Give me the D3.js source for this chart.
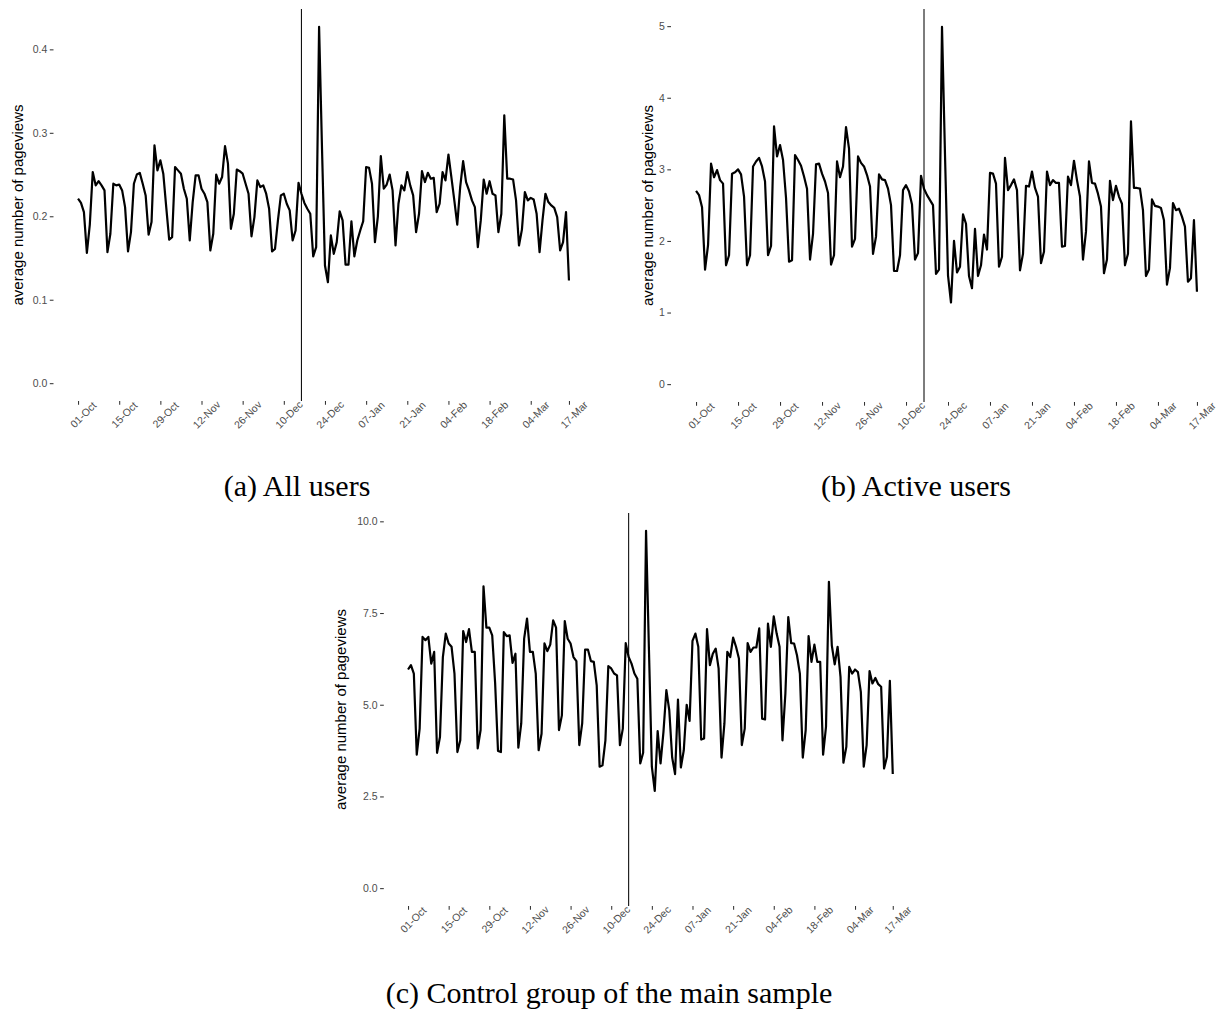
<!DOCTYPE html>
<html><head><meta charset="utf-8">
<script src="https://cdn.jsdelivr.net/npm/d3@7"></script>
<style>body{margin:0;background:#fff} svg{display:block}</style>
</head><body>
<svg id="chart" width="1219" height="1009"></svg>
<script>
// ---------- data ----------
const startDate = "2014-10-01";
const endDate = "2015-03-17";
const eventDate = "2014-12-16";
const tickDates = ["2014-10-01","2014-10-15","2014-10-29","2014-11-12","2014-11-26","2014-12-10","2014-12-24","2015-01-07","2015-01-21","2015-02-04","2015-02-18","2015-03-04","2015-03-17"];
const tickLabels = ["01-Oct","15-Oct","29-Oct","12-Nov","26-Nov","10-Dec","24-Dec","07-Jan","21-Jan","04-Feb","18-Feb","04-Mar","17-Mar"];

const allUsers = [
0.221,0.216,0.205,0.156,0.190,0.253,0.237,0.242,0.237,0.231,
0.157,0.179,0.239,0.237,0.238,0.231,0.211,0.158,0.181,0.239,
0.250,0.252,0.239,0.225,0.178,0.193,0.285,0.255,0.267,0.251,
0.211,0.172,0.175,0.259,0.255,0.251,0.233,0.221,0.171,0.217,
0.249,0.249,0.233,0.227,0.217,0.159,0.179,0.250,0.239,0.247,
0.284,0.263,0.185,0.203,0.256,0.254,0.251,0.239,0.227,0.176,
0.199,0.243,0.235,0.237,0.227,0.209,0.158,0.161,0.195,0.225,
0.227,0.215,0.207,0.171,0.183,0.240,0.227,0.216,0.209,0.203,
0.152,0.163,0.427,0.280,0.141,0.121,0.177,0.155,0.169,0.206,
0.195,0.142,0.142,0.194,0.152,0.171,0.183,0.194,0.259,0.258,
0.239,0.169,0.200,0.272,0.233,0.238,0.250,0.231,0.165,0.215,
0.237,0.231,0.253,0.237,0.225,0.181,0.203,0.254,0.241,0.252,
0.245,0.246,0.205,0.215,0.253,0.243,0.274,0.247,0.219,0.190,
0.235,0.266,0.241,0.231,0.219,0.211,0.163,0.195,0.244,0.227,
0.242,0.227,0.225,0.181,0.203,0.321,0.245,0.245,0.244,0.219,
0.165,0.184,0.229,0.219,0.222,0.220,0.203,0.157,0.195,0.227,
0.217,0.213,0.210,0.199,0.159,0.169,0.205,0.123];

const activeUsers = [
2.70,2.64,2.47,1.60,1.94,3.08,2.89,2.99,2.85,2.80,
1.66,1.80,2.94,2.96,3.00,2.93,2.62,1.66,1.80,3.04,
3.11,3.16,3.04,2.83,1.80,1.93,3.60,3.18,3.34,3.13,
2.60,1.71,1.73,3.20,3.13,3.05,2.90,2.73,1.74,2.10,
3.07,3.08,2.94,2.83,2.67,1.67,1.80,3.11,2.89,3.04,
3.59,3.29,1.92,2.03,3.18,3.09,3.04,2.92,2.76,1.82,
2.06,2.93,2.86,2.85,2.73,2.50,1.58,1.58,1.80,2.71,
2.78,2.69,2.51,1.74,1.83,2.91,2.73,2.64,2.57,2.50,
1.54,1.60,4.99,3.20,1.52,1.14,2.00,1.56,1.64,2.37,
2.24,1.51,1.34,2.17,1.51,1.66,2.09,1.88,2.95,2.94,
2.80,1.64,1.78,3.16,2.71,2.78,2.86,2.71,1.59,1.82,
2.77,2.76,2.97,2.74,2.62,1.69,1.85,2.97,2.78,2.85,
2.81,2.81,1.92,1.93,2.90,2.78,3.12,2.85,2.62,1.74,
2.13,3.11,2.81,2.80,2.66,2.48,1.55,1.74,2.84,2.57,
2.77,2.62,2.52,1.66,1.82,3.67,2.74,2.74,2.73,2.43,
1.51,1.60,2.58,2.49,2.48,2.46,2.29,1.39,1.62,2.53,
2.43,2.45,2.34,2.20,1.43,1.48,2.29,1.29];

const controlGroup = [
5.96,6.08,5.85,3.64,4.35,6.85,6.76,6.85,6.12,6.44,
3.69,4.12,6.30,6.94,6.67,6.58,5.85,3.71,4.03,7.01,
6.71,7.06,6.44,6.44,3.81,4.31,8.23,7.10,7.10,6.89,
5.60,3.74,3.71,6.98,6.87,6.89,6.14,6.39,3.83,4.49,
6.80,7.35,6.44,6.44,5.85,3.76,4.21,6.67,6.46,6.64,
7.30,7.10,4.31,4.71,7.28,6.80,6.67,6.30,6.19,3.90,
4.49,6.50,6.50,6.19,6.17,5.53,3.31,3.35,4.03,6.05,
5.99,5.85,5.80,3.90,4.35,6.68,6.30,6.12,5.85,5.71,
3.40,3.69,9.74,6.50,3.31,2.65,4.28,3.40,4.26,5.40,
4.85,3.56,3.11,5.14,3.29,3.76,5.00,4.56,6.74,6.94,
6.58,4.05,4.08,7.06,6.08,6.39,6.53,5.99,3.56,4.49,
6.44,6.30,6.83,6.58,6.26,3.90,4.35,6.68,6.44,6.56,
6.56,7.08,4.62,4.60,7.21,6.58,7.41,6.94,6.58,4.03,
5.30,7.39,6.68,6.67,6.35,5.85,3.56,4.31,6.87,6.17,
6.64,6.17,6.17,3.64,4.40,8.35,6.62,6.10,6.58,5.76,
3.42,3.85,6.03,5.85,5.96,5.89,5.35,3.31,3.90,5.92,
5.58,5.73,5.56,5.49,3.26,3.58,5.65,3.11];

const yTicksA = [0, 0.1, 0.2, 0.3, 0.4];
const yTicksB = [0, 1, 2, 3, 4, 5];
const yTicksC = [0, 2.5, 5, 7.5, 10];
const yTitle = "average number of pageviews";
const captions = ["(a) All users", "(b) Active users", "(c) Control group of the main sample"];

// ---------- drawing ----------
const parse = d3.utcParse("%Y-%m-%d");
const days = d3.utcDay.range(parse(startDate), d3.utcDay.offset(parse(endDate), 1));

const svg = d3.select("#chart");
const panels = [
  {values: allUsers, ticks: yTicksA, fmt: d3.format(".1f"), left: 53.5, right: 593.5, top: 9, bottom: 401, titleX: 18, caption: captions[0], capX: 297, capY: 496},
  {values: activeUsers, ticks: yTicksB, fmt: d3.format("d"), left: 671, right: 1222, top: 9, bottom: 402, titleX: 648, caption: captions[1], capX: 916, capY: 496},
  {values: controlGroup, ticks: yTicksC, fmt: d3.format(".1f"), left: 383.8, right: 917, top: 513, bottom: 906, titleX: 341, caption: captions[2], capX: 609, capY: 1003}
];

const sans = "'Liberation Sans', Arial, sans-serif";

panels.forEach(p => {
  const data = days.map((d, i) => ({date: d, v: p.values[i]}));
  const t0 = days[0].getTime(), t1 = days[days.length - 1].getTime();
  const xs = (t1 - t0) * 0.05;
  const x = d3.scaleUtc().domain([new Date(t0 - xs), new Date(t1 + xs)]).range([p.left, p.right]);
  const ymax = d3.max(p.values);
  const y = d3.scaleLinear().domain([-0.05 * ymax, 1.05 * ymax]).range([p.bottom, p.top]);

  const g = svg.append("g");

  // y axis
  const ya = g.append("g").attr("transform", `translate(${p.left},0)`)
    .call(d3.axisLeft(y).tickValues(p.ticks).tickFormat(p.fmt).tickSize(3.7).tickPadding(2.5));
  ya.select(".domain").remove();
  ya.selectAll(".tick line").attr("stroke", "#333").attr("stroke-width", 1.05);
  ya.selectAll(".tick text").attr("fill", "#4d4d4d").style("font-family", sans).style("font-size", "10.5px");

  // x axis
  const xa = g.append("g").attr("transform", `translate(0,${p.bottom})`)
    .call(d3.axisBottom(x).tickValues(tickDates.map(parse)).tickFormat((d, i) => tickLabels[i]).tickSize(3.7).tickPadding(3));
  xa.select(".domain").remove();
  xa.selectAll(".tick line").attr("stroke", "#333").attr("stroke-width", 1.05);
  xa.selectAll(".tick text")
    .attr("fill", "#4d4d4d")
    .style("font-family", sans).style("font-size", "10.5px")
    .attr("y", 0).attr("dy", "0.71em")
    .attr("text-anchor", "middle")
    .attr("transform", "translate(2,11) rotate(-45)");

  // vertical event line
  g.append("line")
    .attr("x1", x(parse(eventDate))).attr("x2", x(parse(eventDate)))
    .attr("y1", p.top).attr("y2", p.bottom)
    .attr("stroke", "#111").attr("stroke-width", 1.1);

  // series line
  g.append("path").datum(data)
    .attr("fill", "none").attr("stroke", "#000").attr("stroke-width", 2.2)
    .attr("stroke-linejoin", "round").attr("stroke-linecap", "butt")
    .attr("d", d3.line().x(d => x(d.date)).y(d => y(d.v)));

  // y title
  g.append("text")
    .attr("transform", `translate(${p.titleX},${(p.top + p.bottom) / 2}) rotate(-90)`)
    .attr("text-anchor", "middle").attr("dy", "0.35em")
    .style("font-family", sans).style("font-size", "15px")
    .attr("fill", "#000")
    .text(yTitle);

  // caption
  svg.append("text")
    .attr("x", p.capX).attr("y", p.capY)
    .attr("text-anchor", "middle")
    .style("font-family", "'Liberation Serif', 'Times New Roman', serif").style("font-size", "30px")
    .attr("fill", "#000")
    .text(p.caption);
});
</script>
</body></html>
